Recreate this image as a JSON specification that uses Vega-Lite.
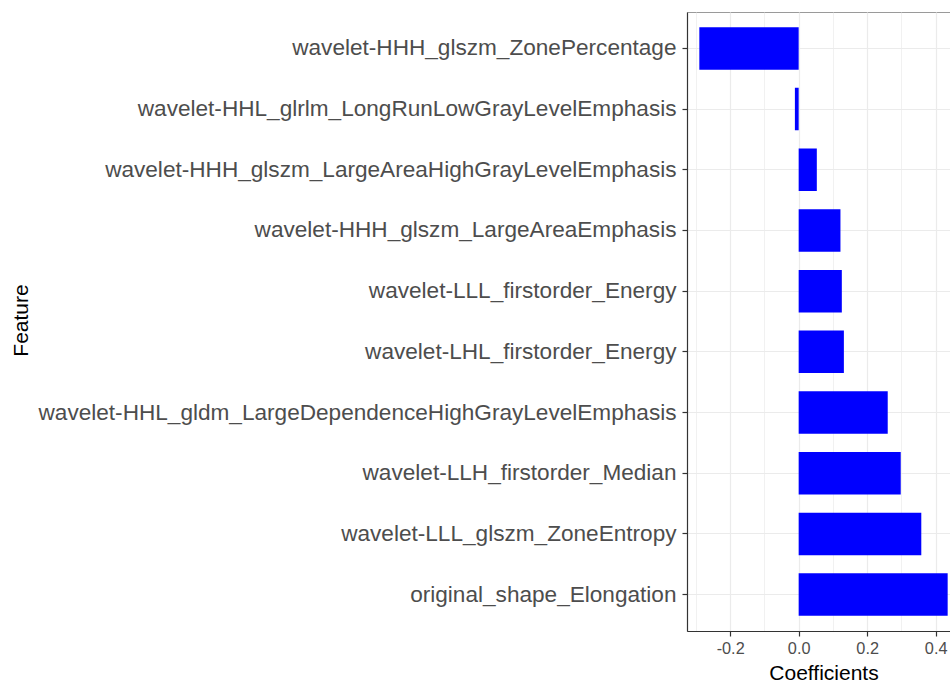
{
  "$schema": "https://vega.github.io/schema/vega-lite/v6.json",
  "autosize": "none",
  "padding": {"left": 687, "top": 12, "right": 0, "bottom": 53},
  "width": 273,
  "height": 619,
  "background": "white",
  "view": {"stroke": "#9a9a9a", "strokeWidth": 1},
  "config": {"font": "Liberation Sans"},
  "data": {
    "values": [
      {"Feature": "wavelet-HHH_glszm_ZonePercentage", "Coefficient": -0.290},
      {"Feature": "wavelet-HHL_glrlm_LongRunLowGrayLevelEmphasis", "Coefficient": -0.011},
      {"Feature": "wavelet-HHH_glszm_LargeAreaHighGrayLevelEmphasis", "Coefficient": 0.053},
      {"Feature": "wavelet-HHH_glszm_LargeAreaEmphasis", "Coefficient": 0.122},
      {"Feature": "wavelet-LLL_firstorder_Energy", "Coefficient": 0.126},
      {"Feature": "wavelet-LHL_firstorder_Energy", "Coefficient": 0.132},
      {"Feature": "wavelet-HHL_gldm_LargeDependenceHighGrayLevelEmphasis", "Coefficient": 0.260},
      {"Feature": "wavelet-LLH_firstorder_Median", "Coefficient": 0.298},
      {"Feature": "wavelet-LLL_glszm_ZoneEntropy", "Coefficient": 0.358},
      {"Feature": "original_shape_Elongation", "Coefficient": 0.435}
    ]
  },
  "mark": {"type": "bar", "color": "#0000FF"},
  "encoding": {
    "y": {
      "field": "Feature",
      "type": "nominal",
      "sort": null,
      "scale": {"paddingInner": 0.3, "paddingOuter": 0.25},
      "axis": {
        "title": "Feature",
        "titleFont": "Liberation Sans",
        "titleFontSize": 21,
        "titleFontWeight": "normal",
        "titleColor": "#000000",
        "titleX": -665.5,
        "titleY": 308,
        "titleAngle": -90,
        "titleAlign": "center",
        "titleBaseline": "middle",
        "labelFont": "Liberation Sans",
        "labelFontSize": 22.6,
        "labelColor": "#4D4D4D",
        "labelPadding": 6,
        "labelLimit": 1000,
        "tickSize": 5,
        "tickColor": "#333333",
        "tickWidth": 1.2,
        "domainColor": "#333333",
        "domainWidth": 1.2,
        "grid": true,
        "gridColor": "#EBEBEB",
        "gridWidth": 1.2,
        "bandPosition": 0.5
      }
    },
    "x": {
      "field": "Coefficient",
      "type": "quantitative",
      "scale": {"domain": [-0.326, 0.471], "nice": false, "zero": false},
      "axis": {
        "title": "Coefficients",
        "titleFont": "Liberation Sans",
        "titleFontSize": 21,
        "titleFontWeight": "normal",
        "titleColor": "#000000",
        "titlePadding": 6,
        "values": [-0.3, -0.2, -0.1, 0, 0.1, 0.2, 0.3, 0.4],
        "labelExpr": "round(datum.value*10) % 2 == 0 ? replace(format(datum.value, '.1f'), '\u2212', '-') : ''",
        "labelFont": "Liberation Sans",
        "labelFontSize": 16.3,
        "labelColor": "#4D4D4D",
        "labelPadding": 4,
        "tickSize": 5,
        "tickColor": "#333333",
        "tickWidth": 1.2,
        "tickOpacity": {"condition": {"test": "round(datum.value*10) % 2 != 0", "value": 0}, "value": 1},
        "domainColor": "#333333",
        "domainWidth": 1.2,
        "grid": true,
        "gridColor": "#EBEBEB",
        "gridWidth": {"condition": {"test": "round(datum.value*10) % 2 != 0", "value": 0.7}, "value": 1.2}
      }
    }
  }
}
